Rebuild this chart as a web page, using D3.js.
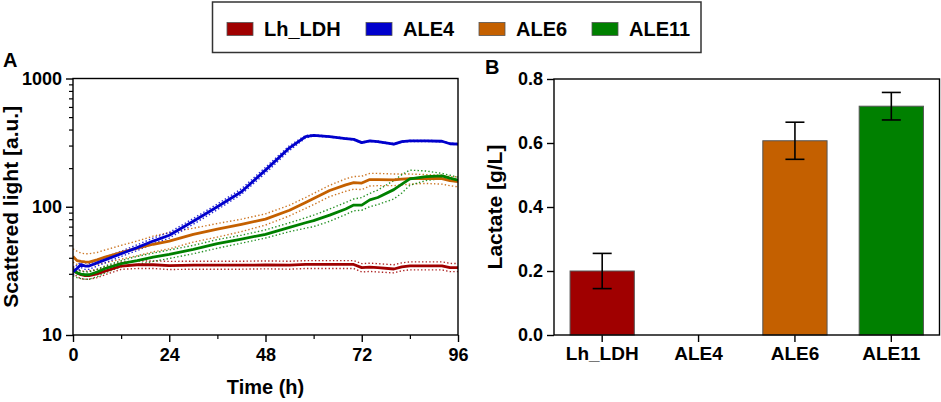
<!DOCTYPE html>
<html>
<head>
<meta charset="utf-8">
<script src="https://cdn.jsdelivr.net/npm/d3@7"></script>
<style>
  body { margin: 0; background: #fff; }
  text { font-family: "Liberation Sans", Arial, sans-serif; font-weight: bold; }
</style>
</head>
<body>
<svg id="chart" width="941" height="402"></svg>
<script>
// Panel A: scattered light over time (mean + dotted upper/lower)
const times = [0, 1, 2, 3, 4, 6, 8, 12, 16, 20, 24, 30, 36, 42, 48, 54, 58, 60, 64, 68, 70, 72, 74, 76, 80, 82, 84, 88, 92, 94, 96];

const lhMean  = [32.5, 30.5, 29.5, 29, 29, 30, 31.5, 34.5, 35.3, 35.3, 34.7, 35, 35, 35, 35.2, 35, 35.5, 35.5, 35.6, 35.6, 35.5, 33.5, 33.8, 33.5, 32.7, 34, 34.6, 34.6, 34.6, 33.5, 33.5];
const lhUpper = [34.5, 32.5, 31.5, 31.5, 31.5, 32.5, 34, 37, 37.8, 37.8, 37.5, 37.6, 37.6, 37.6, 37.8, 37.6, 38, 38, 38, 38, 38, 36, 36.3, 36, 35.3, 36.5, 37.2, 37.2, 37.2, 36.2, 36];
const lhLower = [30.5, 28.5, 27.5, 27.2, 27.2, 28, 29.5, 32.5, 33, 33, 32.4, 32.6, 32.6, 32.6, 32.8, 32.6, 33, 33, 33, 33, 33, 31, 31.3, 31, 30.5, 31.7, 32.2, 32.2, 32.2, 31.2, 31.2];

const ale4Mean  = [31, 33, 35.5, 34.5, 34.5, 36.5, 38.5, 43, 48, 54, 60, 77, 100, 131, 193, 288, 352, 360, 352, 340, 335, 316, 326, 322, 308, 322, 326, 326, 324, 310, 308];
const ale4Upper = [33, 35, 37, 36.5, 36, 38.5, 40.5, 45, 50.5, 57, 63, 81, 105, 138, 203, 300, 360, 364, 355, 343, 338, 319, 329, 325, 311, 325, 329, 329, 327, 313, 311];
const ale4Lower = [29.5, 31, 33.5, 32.5, 32.5, 34.5, 36.5, 41, 45.5, 51.5, 57, 73, 95, 125, 183, 275, 344, 356, 349, 337, 332, 313, 323, 319, 305, 319, 323, 323, 321, 307, 305];

const ale6Mean  = [41, 38, 37.5, 37.2, 37, 38.5, 40.5, 44, 47.5, 51, 54, 61, 67, 73, 80, 94, 108, 116, 134, 148, 154, 153, 163, 163, 162, 164, 166, 166, 166, 160, 157];
const ale6Upper = [47, 45, 43.5, 43, 43, 44, 46, 50, 54, 59, 63, 68, 74, 80, 88, 103, 118, 127, 147, 165, 172, 173, 182, 182, 180, 180, 180, 178, 176, 172, 171];
const ale6Lower = [37, 35.5, 35, 35, 35, 35.5, 36.5, 39, 41.5, 44.5, 47, 53, 58, 64, 72, 85, 97, 104, 120, 132, 137, 136, 145, 146, 146, 148, 150, 152, 150, 146, 143];

const ale11Mean  = [32, 30.5, 29.8, 29.5, 29.5, 31, 33, 36, 38, 40.5, 42.5, 46.5, 51.5, 56, 61, 69, 75, 78, 86, 96, 103, 103, 113, 118, 136, 150, 165, 172, 174, 167, 161];
const ale11Upper = [33.5, 32, 31.5, 31, 31, 32.5, 34.5, 38, 41, 43.5, 46, 50, 55.5, 60, 66, 75, 82, 86, 96, 108, 115, 118, 127, 135, 160, 178, 193, 190, 182, 176, 170];
const ale11Lower = [29, 28, 27.5, 27.2, 27.2, 28.5, 30.5, 34, 35.5, 37.5, 39.5, 43, 47.5, 52, 57, 64, 68, 70, 77, 87, 93, 94, 100, 104, 115, 128, 147, 160, 166, 160, 156];

const strains = ["Lh_LDH", "ALE4", "ALE6", "ALE11"];
const xTicksA = [0, 24, 48, 72, 96];
const xMinorA = [12, 36, 60, 84];
const yTicksA = [10, 100, 1000];

// Panel B: lactate titre
const lactate    = [0.2, 0, 0.607, 0.715];
const lactateErr = [0.055, 0, 0.058, 0.043];
const yTicksB = [0, 0.2, 0.4, 0.6, 0.8];

const colors = {
  Lh_LDH: "#a00000",
  ALE4:   "#0000cc",
  ALE6:   "#c46000",
  ALE11:  "#008000"
};

const curves = [
  { name: "Lh_LDH", mean: lhMean,    upper: lhUpper,    lower: lhLower },
  { name: "ALE6",   mean: ale6Mean,  upper: ale6Upper,  lower: ale6Lower },
  { name: "ALE11",  mean: ale11Mean, upper: ale11Upper, lower: ale11Lower },
  { name: "ALE4",   mean: ale4Mean,  upper: ale4Upper,  lower: ale4Lower }
];

const svg = d3.select("#chart");

// ---------- Legend ----------
const legend = svg.append("g");
legend.append("rect")
  .attr("x", 212.5).attr("y", 2).attr("width", 488.5).attr("height", 50.5)
  .attr("fill", "#fff").attr("stroke", "#333").attr("stroke-width", 1.5);

const legX = [227, 366, 479, 592];
strains.forEach((s, i) => {
  legend.append("rect")
    .attr("x", legX[i]).attr("y", 22.5).attr("width", 26).attr("height", 13)
    .attr("fill", colors[s]).attr("stroke", "#555").attr("stroke-width", 0.8);
  legend.append("text")
    .attr("x", legX[i] + 37).attr("y", 36)
    .attr("font-size", "20px").attr("fill", "#000")
    .text(s);
});

// ---------- Panel A ----------
const A = { left: 73, right: 458, top: 78.5, bottom: 335 };

const xA = d3.scaleLinear().domain([0, 96]).range([A.left, A.right]);
const yA = d3.scaleLog().domain([10, 1000]).range([A.bottom, A.top]);

const gA = svg.append("g");

const minorY = [];
[10, 100].forEach(d => { for (let k = 2; k <= 9; k++) minorY.push(d * k); });

gA.append("g")
  .attr("transform", `translate(${A.left},0)`)
  .call(d3.axisLeft(yA).tickValues(minorY).tickSize(4).tickFormat("").tickSizeOuter(0))
  .call(g => g.select(".domain").remove())
  .call(g => g.selectAll("line").attr("stroke-width", 1.2));

gA.append("g")
  .attr("transform", `translate(${A.left},0)`)
  .call(d3.axisLeft(yA).tickValues(yTicksA).tickSize(7).tickPadding(4).tickFormat(d3.format("d")).tickSizeOuter(0))
  .call(g => g.select(".domain").remove())
  .call(g => g.selectAll("line").attr("stroke-width", 1.4))
  .call(g => g.selectAll("text").attr("font-size", "18px").attr("fill", "#000")
    .style("font-family", "'Liberation Sans', Arial, sans-serif").style("font-weight", "bold"));

gA.append("g")
  .attr("transform", `translate(0,${A.bottom})`)
  .call(d3.axisBottom(xA).tickValues(xMinorA).tickSize(4).tickFormat("").tickSizeOuter(0))
  .call(g => g.select(".domain").remove())
  .call(g => g.selectAll("line").attr("stroke-width", 1.2));

gA.append("g")
  .attr("transform", `translate(0,${A.bottom})`)
  .call(d3.axisBottom(xA).tickValues(xTicksA).tickSize(7).tickPadding(6).tickSizeOuter(0))
  .call(g => g.select(".domain").remove())
  .call(g => g.selectAll("line").attr("stroke-width", 1.4))
  .call(g => g.selectAll("text").attr("font-size", "18px").attr("fill", "#000")
    .style("font-family", "'Liberation Sans', Arial, sans-serif").style("font-weight", "bold"));

svg.append("clipPath").attr("id", "clipA")
  .append("rect").attr("x", A.left).attr("y", A.top)
  .attr("width", A.right - A.left).attr("height", A.bottom - A.top);

const line = d3.line()
  .x((d, i) => xA(times[i]))
  .y(d => yA(d));

const lines = gA.append("g").attr("clip-path", "url(#clipA)");

curves.forEach(c => {
  [c.upper, c.lower].forEach(arr => {
    lines.append("path")
      .attr("d", line(arr))
      .attr("fill", "none")
      .attr("stroke", colors[c.name])
      .attr("stroke-width", 1.4)
      .attr("stroke-dasharray", "1.4 2.2")
      .attr("opacity", 0.85);
  });
});
curves.forEach(c => {
  lines.append("path")
    .attr("d", line(c.mean))
    .attr("fill", "none")
    .attr("stroke", colors[c.name])
    .attr("stroke-width", 2.8)
    .attr("stroke-linejoin", "round");
});

// frame
gA.append("rect")
  .attr("x", A.left).attr("y", A.top)
  .attr("width", A.right - A.left).attr("height", A.bottom - A.top)
  .attr("fill", "none").attr("stroke", "#000").attr("stroke-width", 1.4);

gA.append("text")
  .attr("x", (A.left + A.right) / 2).attr("y", 394)
  .attr("text-anchor", "middle").attr("font-size", "20px")
  .text("Time (h)");

gA.append("text")
  .attr("transform", `translate(18,${(A.top + A.bottom) / 2}) rotate(-90)`)
  .attr("text-anchor", "middle").attr("font-size", "21px")
  .text("Scattered light [a.u.]");

svg.append("text").attr("x", 3).attr("y", 67).attr("font-size", "20px").text("A");

// ---------- Panel B ----------
const B = { left: 554, right: 939.5, top: 79, bottom: 335 };

const xB = d3.scaleBand().domain(strains).range([B.left, B.right])
  .paddingInner(1 / 3).paddingOuter(1 / 6);
const yB = d3.scaleLinear().domain([0, 0.8]).range([B.bottom, B.top]);

const gB = svg.append("g");

gB.append("g")
  .attr("transform", `translate(${B.left},0)`)
  .call(d3.axisLeft(yB).tickValues(yTicksB).tickSize(7).tickPadding(4).tickFormat(d3.format(".1f")).tickSizeOuter(0))
  .call(g => g.select(".domain").remove())
  .call(g => g.selectAll("line").attr("stroke-width", 1.4))
  .call(g => g.selectAll("text").attr("font-size", "18px").attr("fill", "#000")
    .style("font-family", "'Liberation Sans', Arial, sans-serif").style("font-weight", "bold"));

gB.append("g")
  .attr("transform", `translate(0,${B.bottom})`)
  .call(d3.axisBottom(xB).tickSize(7).tickPadding(5).tickSizeOuter(0))
  .call(g => g.select(".domain").remove())
  .call(g => g.selectAll("line").attr("stroke-width", 1.4))
  .call(g => g.selectAll("text").attr("font-size", "19px").attr("fill", "#000")
    .style("font-family", "'Liberation Sans', Arial, sans-serif").style("font-weight", "bold"));

const barData = strains.map((s, i) => ({ name: s, value: lactate[i], err: lactateErr[i] }));

gB.selectAll("rect.bar")
  .data(barData.filter(d => d.value > 0))
  .join("rect")
  .attr("class", "bar")
  .attr("x", d => xB(d.name))
  .attr("y", d => yB(d.value))
  .attr("width", xB.bandwidth())
  .attr("height", d => yB(0) - yB(d.value))
  .attr("fill", d => colors[d.name])
  .attr("stroke", "#555")
  .attr("stroke-width", 1);

const eb = gB.selectAll("g.err")
  .data(barData.filter(d => d.err > 0))
  .join("g")
  .attr("class", "err")
  .attr("stroke", "#000")
  .attr("stroke-width", 1.6);

eb.append("line")
  .attr("x1", d => xB(d.name) + xB.bandwidth() / 2)
  .attr("x2", d => xB(d.name) + xB.bandwidth() / 2)
  .attr("y1", d => yB(d.value + d.err))
  .attr("y2", d => yB(d.value - d.err));
[1, -1].forEach(sign => {
  eb.append("line")
    .attr("x1", d => xB(d.name) + xB.bandwidth() / 2 - 9.5)
    .attr("x2", d => xB(d.name) + xB.bandwidth() / 2 + 9.5)
    .attr("y1", d => yB(d.value + sign * d.err))
    .attr("y2", d => yB(d.value + sign * d.err));
});

gB.append("rect")
  .attr("x", B.left).attr("y", B.top)
  .attr("width", B.right - B.left).attr("height", B.bottom - B.top)
  .attr("fill", "none").attr("stroke", "#000").attr("stroke-width", 1.4);

gB.append("text")
  .attr("transform", `translate(502,${(B.top + B.bottom) / 2}) rotate(-90)`)
  .attr("text-anchor", "middle").attr("font-size", "21px")
  .text("Lactate [g/L]");

svg.append("text").attr("x", 485).attr("y", 74).attr("font-size", "20px").text("B");
</script>
</body>
</html>
